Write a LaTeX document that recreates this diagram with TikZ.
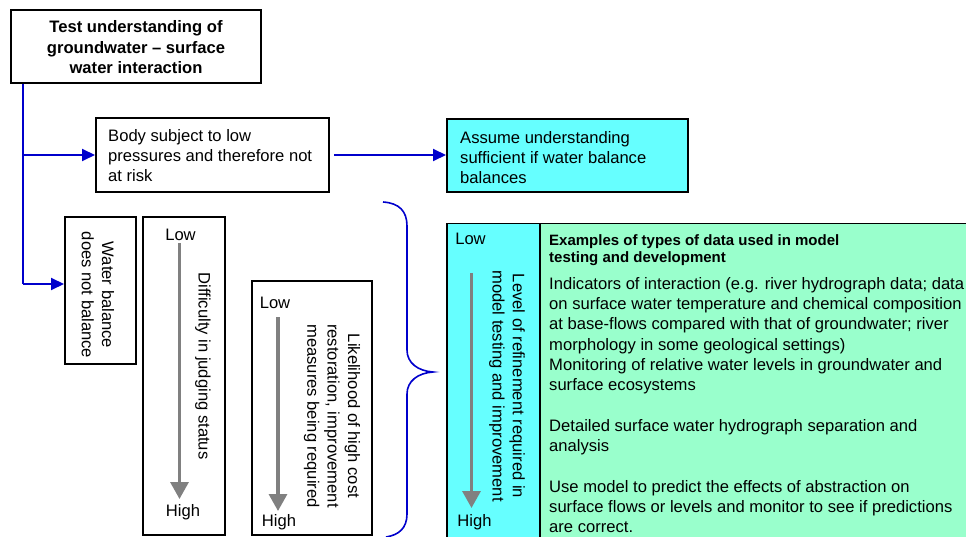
\documentclass[tikz,border=0pt]{standalone}
\usepackage{fontspec}
\setmainfont{Liberation Sans}
\usetikzlibrary{arrows.meta}
\definecolor{flowblue}{RGB}{0,0,204}
\definecolor{boxcyan}{RGB}{102,255,255}
\definecolor{boxgreen}{RGB}{153,255,204}
\definecolor{scalegray}{RGB}{128,128,128}
\begin{document}
\begin{tikzpicture}[x=1pt,y=-1pt,
  stepbox/.style={draw=black, line width=2pt, inner sep=0pt},
  txt/.style={font=\fontsize{16.6}{20.3}\selectfont, inner sep=0pt, align=left},
  ctxt/.style={font=\fontsize{16.6}{20.3}\selectfont, inner sep=0pt, align=center},
  btxt/.style={font=\fontsize{16.6}{20.5}\selectfont\bfseries, inner sep=0pt, align=center},
  flow/.style={draw=flowblue, line width=2pt},
  flowarr/.style={flow, -{Triangle[length=13pt,width=12pt]}},
  grayarr/.style={draw=scalegray, line width=3.3pt, -{Triangle[length=17pt,width=18pt]}}
]
\useasboundingbox (0,0) rectangle (966,537);

% boxes
\node[stepbox, line width=2.5pt, minimum width=250pt, minimum height=73pt] (top) at (136,46.5) {};
\node[btxt] (toptxt) at (136,47.5) {Test understanding of\\groundwater -- surface\\water interaction};

\node[stepbox, minimum width=233pt, minimum height=74pt] (body) at (212.5,155) {};
\node[txt, anchor=north west] (bodytxt) at (108,126.8) {\strut Body subject to low\\pressures and therefore not\\at risk};

\node[stepbox, fill=boxcyan, minimum width=241pt, minimum height=73pt] (assume) at (567.5,155.5) {};
\node[txt, anchor=north west] (assumetxt) at (460,128.8) {\strut Assume understanding\\sufficient if water balance\\balances};

\node[stepbox, minimum width=71pt, minimum height=147pt] (wb) at (100.5,290.5) {};
\node[ctxt, rotate=-90] (wbtxt) at (98,295) {Water balance\\does not balance};

\node[stepbox, minimum width=82pt, minimum height=318pt] (diff) at (184,376) {};
\node[ctxt] (dlow) at (180.5,235) {Low};
\node[ctxt] (dhigh) at (183,512) {High};
\node[ctxt, rotate=-90] (difftxt) at (203,366) {Difficulty in judging status};
\coordinate (da1) at (179.5,243);
\coordinate (da2) at (179.5,499);
\draw[grayarr] (da1) -- (da2);

\node[stepbox, minimum width=120pt, minimum height=254pt] (like) at (312,408) {};
\node[ctxt] (llow) at (275,303) {Low};
\node[ctxt] (lhigh) at (279,522) {High};
\node[ctxt, rotate=-90] (liketxt) at (332,416) {Likelihood of high cost\\restoration, improvement\\measures being required};
\coordinate (la1) at (278,317);
\coordinate (la2) at (278,511);
\draw[grayarr] (la1) -- (la2);

% big table
\node[draw=black, line width=1.5pt, fill=boxcyan, minimum width=93pt, minimum height=340pt, anchor=north west, inner sep=0pt] (lvl) at (446,223) {};
\node[draw=black, line width=1.5pt, fill=boxgreen, minimum width=441pt, minimum height=340pt, anchor=north west, inner sep=0pt] (data) at (539,223) {};
\node[ctxt] (vlow) at (470.5,239) {Low};
\node[ctxt] (vhigh) at (474.5,522) {High};
\node[ctxt, rotate=-90] (lvltxt) at (507,386) {Level of refinement required in\\model testing and improvement};
\coordinate (va1) at (471.5,273);
\coordinate (va2) at (471.5,508);
\draw[grayarr] (va1) -- (va2);

\node[font=\fontsize{15}{17}\selectfont\bfseries, inner sep=0pt, align=left, anchor=north west] (datahead) at (549,233.6)
  {\strut Examples of types of data used in model\\testing and development};
\node[txt, anchor=north west] (datatxt) at (549,274.8)
  {\strut Indicators of interaction (e.g. river hydrograph data; data\\
   on surface water temperature and chemical composition\\
   at base-flows compared with that of groundwater; river\\
   morphology in some geological settings)\\
   Monitoring of relative water levels in groundwater and\\
   surface ecosystems\\[20.3pt]
   Detailed surface water hydrograph separation and\\
   analysis\\[20.3pt]
   Use model to predict the effects of abstraction on\\
   surface flows or levels and monitor to see if predictions\\
   are correct.};

% connectors
\coordinate (j1) at (23,155);
\coordinate (j2) at (23,284);
\draw[flow] (top.south -| j1) -- (j2);
\draw[flowarr] (j1) -- (body.west);
\draw[flowarr] (j2) -- (j2 -| wb.west);
\draw[flowarr, shorten <=4pt] (body.east) -- (body.east -| assume.west);

% brace
\draw[draw=flowblue, line width=1.6pt]
  (383,202) .. controls (399,203) and (407,211) .. (407,226)
  -- (407,350) .. controls (407,363) and (418,371) .. (433,372)
  .. controls (418,373) and (407,381) .. (407,394)
  -- (407,514) .. controls (407,528) and (399,535) .. (386,537);
\end{tikzpicture}
\end{document}
